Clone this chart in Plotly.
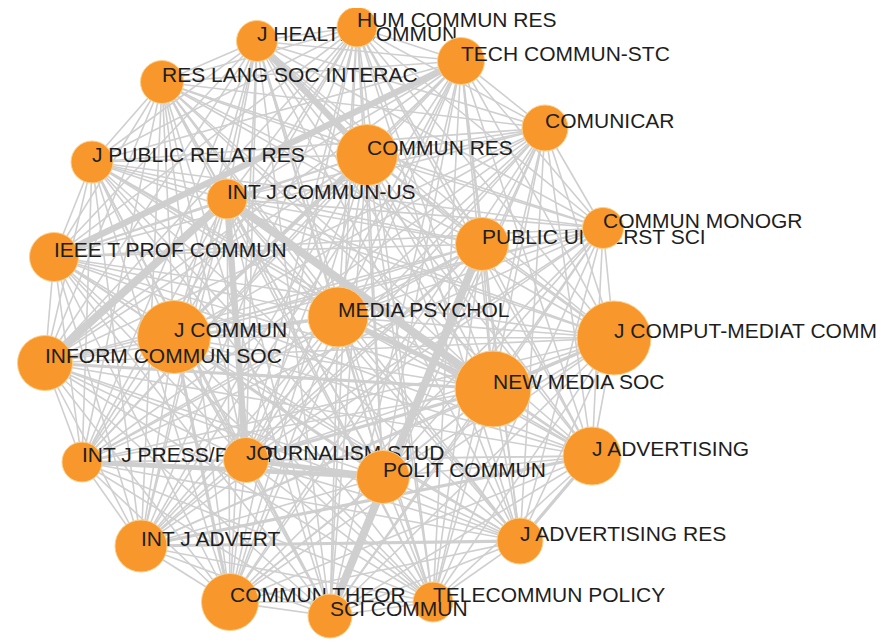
import itertools
import plotly.graph_objects as go

# ---- data -------------------------------------------------------------
# journals, listed in drawing order (later ones are drawn on top)
journals = [
    "J HEALTH COMMUN", "HUM COMMUN RES", "TECH COMMUN-STC", "RES LANG SOC INTERAC",
    "COMUNICAR", "COMMUN RES", "J PUBLIC RELAT RES", "INT J COMMUN-US",
    "PUBLIC UNDERST SCI", "COMMUN MONOGR", "IEEE T PROF COMMUN", "MEDIA PSYCHOL",
    "J COMMUN", "J COMPUT-MEDIAT COMM", "INFORM COMMUN SOC", "NEW MEDIA SOC",
    "J ADVERTISING", "INT J PRESS/POLIT", "JOURNALISM STUD", "POLIT COMMUN",
    "INT J ADVERT", "J ADVERTISING RES", "COMMUN THEOR", "TELECOMMUN POLICY",
    "SCI COMMUN",
]
# layout coordinates of each node (network layout units)
layout_x = [257, 357, 461, 162, 545, 367, 92, 227, 482, 603, 54, 338, 174, 614,
            45, 493, 592, 82, 246, 383, 141, 520, 230, 433, 330]
layout_y = [41, 27, 61, 82, 128, 155, 162, 199, 244, 228, 257, 317, 337, 338,
            363, 389, 456, 462, 460, 477, 546, 541, 602, 602, 616]
# node weight (drawn as marker diameter)
node_weight = [41, 40, 47, 43, 46, 61, 42, 40, 53, 41, 49, 60, 73, 74,
               55, 76, 58, 40, 45, 53, 52, 46, 57, 40, 44]

# link strengths that stand out; every other pair of journals is linked with strength 1
strong_links = {
    ("INT J COMMUN-US", "NEW MEDIA SOC"): 5,
    ("INT J COMMUN-US", "INFORM COMMUN SOC"): 5,
    ("PUBLIC UNDERST SCI", "SCI COMMUN"): 5,
    ("INT J COMMUN-US", "JOURNALISM STUD"): 4,
    ("TECH COMMUN-STC", "IEEE T PROF COMMUN"): 4,
    ("J HEALTH COMMUN", "COMMUN RES"): 4,
    ("INT J PRESS/POLIT", "POLIT COMMUN"): 3,
    ("JOURNALISM STUD", "POLIT COMMUN"): 3,
    ("MEDIA PSYCHOL", "NEW MEDIA SOC"): 3,
    ("J COMMUN", "POLIT COMMUN"): 2,
    ("J COMMUN", "COMMUN RES"): 2,
    ("J COMMUN", "MEDIA PSYCHOL"): 2,
    ("NEW MEDIA SOC", "INFORM COMMUN SOC"): 2,
    ("NEW MEDIA SOC", "J COMPUT-MEDIAT COMM"): 2,
    ("J ADVERTISING", "J ADVERTISING RES"): 2,
    ("J ADVERTISING", "INT J ADVERT"): 2,
    ("INT J ADVERT", "J ADVERTISING RES"): 2,
    ("JOURNALISM STUD", "NEW MEDIA SOC"): 2,
    ("COMMUN THEOR", "J COMMUN"): 2,
}

# ---- style ------------------------------------------------------------
W, H = 885, 642
PAGE_MARGIN = 8          # default body margin of the html page
EDGE_COLOR = "#cfcfcf"
NODE_COLOR = "#f8972c"
NODE_EDGE = "#fcd08a"
TEXT_COLOR = "#1e1e1e"
FONT = "Liberation Sans, Arial, sans-serif"
FONT_SIZE = 21
LABEL_DX, LABEL_DY = 0, -5
WIDTH_PER_STRENGTH = 1.6

idx = {n: i for i, n in enumerate(journals)}
strength = {}
for a, b in itertools.combinations(journals, 2):
    s = strong_links.get((a, b), strong_links.get((b, a), 1))
    strength[(a, b)] = s

fig = go.Figure()

# edges grouped by strength, thin first
for s in sorted(set(strength.values())):
    xs, ys = [], []
    for (a, b), v in strength.items():
        if v != s:
            continue
        xs += [layout_x[idx[a]], layout_x[idx[b]], None]
        ys += [layout_y[idx[a]], layout_y[idx[b]], None]
    fig.add_trace(go.Scatter(
        x=xs, y=ys, mode="lines",
        line=dict(color=EDGE_COLOR, width=s * WIDTH_PER_STRENGTH),
        hoverinfo="skip", showlegend=False, cliponaxis=False,
    ))

# nodes and labels, one after another so later nodes cover earlier labels
for i, name in enumerate(journals):
    fig.add_trace(go.Scatter(
        x=[layout_x[i]], y=[layout_y[i]], mode="markers",
        marker=dict(size=node_weight[i], color=NODE_COLOR,
                    line=dict(color=NODE_EDGE, width=1)),
        hoverinfo="text", hovertext=[name], showlegend=False, cliponaxis=False,
    ))
    fig.add_trace(go.Scatter(
        x=[layout_x[i] + LABEL_DX], y=[layout_y[i] + LABEL_DY], mode="text",
        text=[name], textposition="middle right",
        textfont=dict(family=FONT, size=FONT_SIZE, color=TEXT_COLOR),
        hoverinfo="skip", showlegend=False, cliponaxis=False,
    ))

fig.update_layout(
    width=W - PAGE_MARGIN, height=H - PAGE_MARGIN, autosize=False,
    margin=dict(l=0, r=0, t=0, b=0),
    paper_bgcolor="white", plot_bgcolor="white",
    xaxis=dict(range=[PAGE_MARGIN, W], visible=False, fixedrange=True),
    yaxis=dict(range=[H, PAGE_MARGIN], visible=False, fixedrange=True),
)

fig.write_html("out.html", config={"displayModeBar": False})
